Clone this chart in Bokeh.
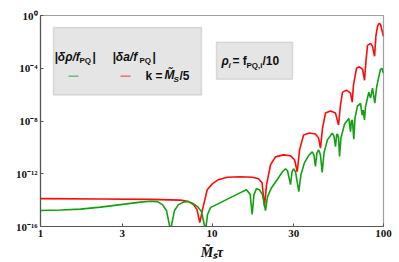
import numpy as np
from bokeh.plotting import figure
from bokeh.models import (Label, BoxAnnotation, FixedTicker, CustomJSTickFormatter, Range1d)
from bokeh.embed import file_html
from bokeh.resources import INLINE

# ---- data ----
x_ticks = [1, 3, 10, 30, 100]
y_ticks = [1e-16, 1e-12, 1e-8, 1e-4, 1]

red_tau = [1.00, 2.24, 4.38, 6.55, 7.29, 7.80, 8.18, 8.49, 8.80, 9.38, 10.07, 10.9, 12.27, 14.66, 17.22,
           18.67, 19.58, 20.24, 20.80, 21.95, 23.46, 26.1, 28.7, 30.3, 31.4, 32.4, 34.2, 37.0, 40.1, 41.8,
           42.9, 44.1, 45.9, 49.1, 52.5, 54.7, 56.1, 57.7, 60.9, 64.2, 65.7, 66.8, 69.6, 72.5, 75.5, 77.5,
           79.1, 80.7, 84.0, 86.3, 88.7, 90.4, 92.3, 94.2, 96.1, 98.6, 100.0]
red_log10 = [-13.89, -13.91, -13.94, -14.0, -14.11, -14.34, -14.72, -15.70, -14.72, -13.21, -12.75, -12.45,
             -12.26, -12.23, -12.26, -12.38, -12.68, -14.47, -12.83, -11.32, -10.72, -10.57, -10.64, -10.94,
             -11.85, -10.19, -9.06, -8.91, -8.98, -9.28, -10.06, -8.53, -7.40, -7.25, -7.40, -8.30, -6.79,
             -5.81, -5.66, -5.89, -6.57, -5.28, -4.0, -3.89, -4.08, -4.91, -3.40, -2.26, -2.11, -2.34, -3.09,
             -1.51, -0.83, -0.60, -0.68, -1.28, -1.58]

green_tau = [1.00, 1.31, 1.71, 2.24, 2.93, 3.83, 4.38, 4.81, 5.14, 5.43, 5.73, 6.04, 6.38, 6.82, 7.20, 7.70,
             8.23, 8.68, 9.17, 9.42, 9.80, 11.2, 12.8, 14.66, 15.9, 16.7, 17.15, 17.57, 18.17, 18.9, 19.7,
             20.5, 21.08, 22.23, 23.99, 25.76, 26.84, 27.56, 28.7, 29.27, 29.87, 30.7, 32.07, 33.0, 34.6,
             36.5, 38.4, 39.3, 40.1, 40.9, 41.8, 42.9, 43.9, 45.0, 47.1, 50.2, 51.4, 52.5, 53.3, 53.9, 54.7,
             55.4, 56.5, 59.3, 62.8, 64.2, 65.0, 65.9, 67.1, 68.2, 70.5, 73.4, 75.1, 76.1, 77.5, 78.5, 82.1,
             84.0, 86.3, 89.0, 91.0, 93.5, 96.1, 97.8, 100.0]
green_log10 = [-14.79, -14.75, -14.68, -14.53, -14.34, -14.15, -14.09, -14.11, -14.34, -14.79, -16.3, -14.79,
               -14.34, -14.15, -14.11, -14.23, -14.49, -14.87, -16.3, -15.09, -14.57, -14.19, -13.81, -13.43,
               -13.21, -13.58, -15.09, -13.58, -13.13, -13.21, -13.58, -14.79, -13.74, -13.06, -12.45, -11.85,
               -11.62, -11.77, -12.83, -11.85, -11.62, -11.85, -13.36, -12.08, -11.17, -10.64, -10.34, -10.57,
               -11.45, -10.42, -10.19, -10.57, -11.90, -10.42, -9.43, -8.93, -9.13, -9.94, -9.06, -8.98, -9.28,
               -10.69, -9.28, -8.23, -7.80, -8.81, -8.0, -7.92, -9.38, -7.77, -6.87, -6.66, -7.55, -7.17, -7.92,
               -6.94, -5.81, -6.26, -5.51, -6.64, -5.51, -4.75, -4.08, -4.0, -4.38]

red_y = [10 ** v for v in red_log10]
green_y = [10 ** v for v in green_log10]

RED = "#ff0a0a"
GREEN = "#12a012"

p = figure(width=399, height=262, x_axis_type="log", y_axis_type="log",
           x_range=Range1d(1, 100), y_range=Range1d(1e-16, 1),
           output_backend="svg", toolbar_location=None,
           min_border_left=40, min_border_right=16, min_border_top=15, min_border_bottom=35)
p.background_fill_color = "white"
p.border_fill_color = "white"
p.outline_line_color = "#a0a0a0"
p.outline_line_width = 1.2
p.grid.visible = False

p.xaxis.ticker = FixedTicker(ticks=x_ticks, minor_ticks=[])
p.yaxis.ticker = FixedTicker(ticks=y_ticks, minor_ticks=[])
p.yaxis.formatter = CustomJSTickFormatter(code="""
const sup = {'-':'\u207b','0':'\u2070','1':'\u00b9','2':'\u00b2','3':'\u00b3','4':'\u2074',
             '5':'\u2075','6':'\u2076','7':'\u2077','8':'\u2078','9':'\u2079'};
const e = Math.round(Math.log10(tick));
return '10' + String(e).split('').map(c => sup[c]).join('');
""")
p.xaxis.formatter = CustomJSTickFormatter(code="return String(Math.round(tick));")
for ax in (p.xaxis, p.yaxis):
    ax.axis_line_color = "#555555"
    ax.axis_line_width = 1.2
    ax.major_tick_in = 3
    ax.major_tick_out = 0
    ax.major_tick_line_color = "#555555"
    ax.minor_tick_line_color = None
    ax.major_label_text_font = "Liberation Serif"
    ax.major_label_text_font_style = "bold"
    ax.major_label_text_font_size = "11px"
    ax.major_label_text_color = "#111111"
p.yaxis.major_label_standoff = 3
p.xaxis.major_label_standoff = 3

p.xaxis.axis_label = "M\u0303\u209b\u03c4"
p.xaxis.axis_label_text_font = "Liberation Serif"
p.xaxis.axis_label_text_font_style = "bold italic"
p.xaxis.axis_label_text_font_size = "14px"
p.xaxis.axis_label_text_color = "#111111"
p.xaxis.axis_label_standoff = 5

p.line(red_tau, red_y, line_color=RED, line_width=1.6)
p.line(green_tau, green_y, line_color=GREEN, line_width=1.6)


# annotation placement helpers (page pixel -> data coords)
def dx(px):
    return 10 ** ((px - 40) / 171.5)


def dy(py):
    return 10 ** (-(py - 15) / 13.25)


p.add_layout(BoxAnnotation(left=dx(53), right=dx(201), top=dy(27), bottom=dy(95),
                           fill_color="#e5e5e5", fill_alpha=1, line_color="#9a9a9a", line_width=1.5))
p.add_layout(BoxAnnotation(left=dx(216), right=dx(292), top=dy(42), bottom=dy(79),
                           fill_color="#e5e5e5", fill_alpha=1, line_color="#9a9a9a", line_width=1.5))


def lab(px, py, txt, size=12, style="bold", font="Liberation Sans", color="#111111"):
    p.add_layout(Label(x=dx(px), y=dy(py), text=txt, text_font=font, text_font_size=f"{size}px",
                       text_font_style=style, text_color=color, text_baseline="middle",
                       text_align="left", level="overlay"))


# legend texts
lab(54, 57, "|\u03b4\u03c1/f", 12, "bold italic")
lab(79, 60, "PQ", 8)
lab(92, 57, "|", 12)
lab(112, 57, "|\u03b4a/f", 12, "bold italic")
lab(139, 60, "PQ", 8)
lab(152, 57, "|", 12)
lab(145, 76, "k = ", 12)
lab(164, 75, "M\u0303", 12, "bold italic")
lab(173, 79, "S", 8, "bold italic")
lab(179, 76, "/5", 12)

p.segment(x0=[dx(68), dx(120)], y0=[dy(76), dy(76)], x1=[dx(78), dx(130)], y1=[dy(76), dy(76)],
          line_color=[GREEN, RED], line_alpha=0.55, line_width=1.5, level="overlay")

# second box
lab(221, 61, "\u03c1", 12, "bold italic")
lab(228, 65, "i", 8, "bold italic")
lab(232, 61, " = f", 12, "bold")
lab(246, 65, "PQ,i", 8, "bold")
lab(262, 61, "/10", 12, "bold")

open("out.html", "w").write(file_html(p, INLINE))
